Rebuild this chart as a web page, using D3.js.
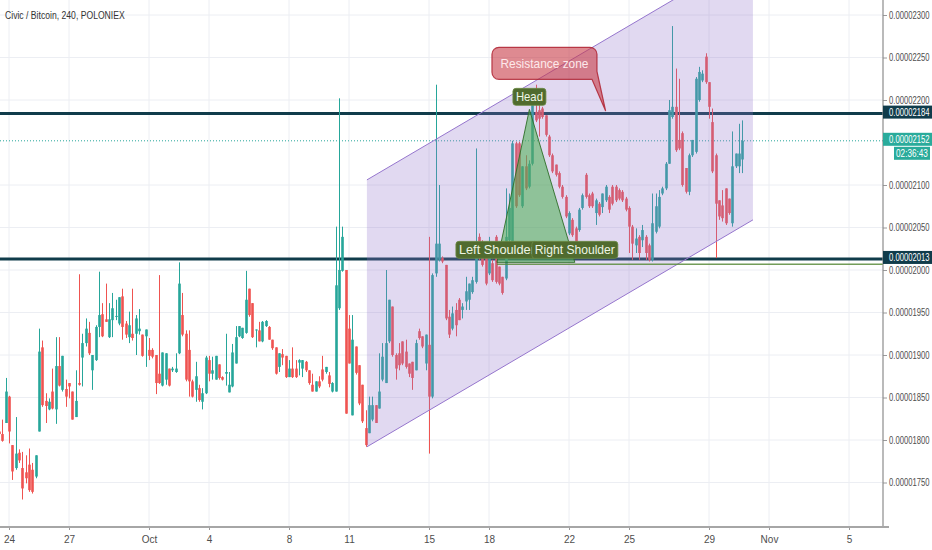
<!DOCTYPE html>
<html><head><meta charset="utf-8">
<script src="https://cdn.jsdelivr.net/npm/d3@7"></script>
<style>body{margin:0;background:#fff}svg{display:block}</style>
</head><body><svg id="c" width="932" height="550"></svg>
<script>
// ---- DATA (prices in 1e-8 BTC) ----
const candleStart = "2018-09-23T12:00:00Z";
const candleStepHours = 4;
const open = [1810,1807,1820,1851,1794,1767,1785,1767,1762,1771,1765,1757,1810,1909,1846,1836,1857,1836,1887,1859,1860,1867,1857,1827,1867,1897,1914,1926,1882,1894,1933,1948,1942,1921,1941,1945,1937,1969,1937,1921,1925,1925,1928,1924,1922,1906,1906,1900,1878,1864,1871,1884,1882,1880,1902,1947,1925,1906,1869,1859,1861,
1845,1855,1894,1878,1871,1889,1874,1878,1856,1863,1890,1922,1920,1926,1978,1961,1929,1929,1916,1934,1933,1918,1909,1886,1901,1899,1874,1884,1884,1891,1884,1892,1882,1865,1857,1869,1883,1880,1876,1857,
1857,1955,1999,2000,1931,1829,1910,1888,1865,1814,1808,1824,1841,1837,1871,1867,1916,1957,1900,1902,1916,1904,1890,1892,1882,1928,1922,1890,1912,1851,1996,2012,2014,2006,1945,1931,1953,1965,1953,1963,1965,1974,1986,2039,2027,2031,1996,2008,2039,2004,1992,1990,
2035,2031,2149,2149,2075,2122,2098,2125,2186,2188,2190,2182,2157,2135,2124,2114,2098,2086,2043,2059,2049,2047,2073,2112,2088,2090,2067,2078,2074,2082,2086,2098,2098,2094,2092,2084,2073,2051,2029,2039,2035,2039,2029,2012,2045,2051,
2090,2096,2125,2180,2192,2153,2161,2120,2092,2135,2139,2200,2223,2251,2221,2174,2135,2082,2076,2096,2084,2055,2122,2122,2130];
const high = [1829,1824,1873,1852,1794,1827,1789,1786,1782,1790,1773,1782,1931,1917,1855,1849,1884,1921,1921,1899,1871,1867,1857,1882,1995,1925,1943,1939,1900,1935,1998,1961,1984,1961,1973,1965,1968,1978,1940,1951,1978,1947,1954,1924,1930,1920,1908,1900,1994,1903,1902,1884,1886,1902,2009,1973,1929,1929,1871,1892,1865,
1861,1899,1899,1898,1899,1889,1875,1925,1880,1913,1934,1934,1932,1999,1978,1961,1930,1939,1940,1941,1934,1918,1909,1902,1907,1899,1894,1909,1894,1895,1894,1893,1882,1878,1869,1875,1899,1886,1880,1868,
2051,2202,2051,2000,1947,1947,1910,1888,1865,1835,1851,1851,1841,1902,1914,2000,1965,1957,1902,1914,1916,1918,1890,1892,1918,1931,1922,1924,2039,1996,2218,2100,2016,2006,1953,1957,1961,1967,1961,1992,1984,1992,2143,2043,2035,2031,2039,2012,2041,2004,1992,2096,
2090,2152,2151,2151,2122,2135,2129,2196,2218,2212,2192,2182,2159,2137,2124,2116,2100,2088,2069,2061,2051,2073,2090,2114,2090,2092,2084,2080,2090,2100,2088,2100,2100,2096,2094,2086,2075,2053,2049,2041,2053,2041,2031,2090,2090,2094,
2098,2127,2200,2287,2237,2225,2163,2120,2137,2153,2227,2239,2235,2255,2221,2190,2137,2082,2094,2096,2084,2163,2137,2172,2176];
const low = [1806,1798,1820,1796,1753,1765,1773,1730,1749,1739,1737,1755,1810,1839,1820,1835,1836,1819,1863,1857,1839,1849,1824,1827,1864,1863,1910,1900,1859,1893,1921,1921,1939,1920,1921,1941,1935,1918,1920,1914,1917,1900,1924,1898,1886,1894,1896,1854,1866,1863,1865,1863,1880,1879,1901,1922,1869,1851,1850,1845,1845,
1836,1854,1869,1871,1871,1871,1870,1864,1856,1862,1890,1921,1919,1925,1945,1920,1909,1916,1915,1933,1918,1906,1877,1880,1888,1873,1874,1873,1873,1876,1874,1880,1865,1857,1857,1861,1869,1878,1862,1856,
1857,1953,1998,1831,1890,1829,1877,1841,1820,1792,1808,1822,1820,1837,1869,1867,1914,1898,1871,1882,1888,1884,1874,1859,1882,1918,1908,1882,1784,1849,1992,2010,2008,1941,1920,1929,1922,1941,1943,1953,1953,1972,1984,2012,2004,1982,1994,1986,1984,1982,1971,1988,
2031,2029,2073,2086,2073,2094,2096,2123,2174,2157,2178,2157,2133,2114,2110,2096,2084,2061,2041,2039,2016,2045,2071,2084,2073,2073,2053,2063,2067,2080,2067,2076,2080,2082,2080,2069,2020,2012,2020,2012,2027,2012,2010,2010,2043,2049,
2088,2094,2125,2178,2139,2141,2098,2090,2088,2133,2137,2198,2221,2219,2178,2114,2014,2059,2057,2053,2065,2051,2120,2114,2114];
const close = [1807,1799,1857,1810,1763,1784,1776,1743,1755,1741,1739,1782,1904,1841,1840,1845,1837,1887,1864,1899,1851,1863,1824,1846,1865,1914,1931,1902,1900,1933,1947,1922,1939,1942,1955,1946,1968,1933,1924,1935,1920,1943,1931,1899,1930,1899,1898,1867,1867,1903,1902,1864,1884,1884,1984,1924,1871,1869,1851,1875,1847,
1855,1897,1878,1882,1899,1873,1871,1880,1865,1903,1921,1934,1932,1965,1947,1921,1930,1916,1939,1940,1918,1908,1878,1902,1897,1874,1884,1874,1874,1894,1894,1882,1867,1857,1869,1863,1871,1886,1866,1867,
1982,2000,2039,1831,1890,1918,1879,1843,1822,1794,1841,1841,1820,1857,1898,1914,1965,1900,1884,1888,1890,1886,1878,1873,1914,1920,1910,1924,1851,1994,2031,2031,2010,1943,1924,1949,1935,1941,1957,1975,1984,1988,2020,2014,2006,1984,2023,1988,1986,1984,1973,2039,
2073,2149,2075,2088,2122,2096,2125,2194,2176,2178,2180,2159,2135,2116,2112,2098,2086,2063,2067,2041,2027,2071,2088,2086,2075,2075,2082,2065,2090,2098,2071,2078,2082,2084,2082,2071,2051,2031,2037,2020,2047,2020,2012,2055,2075,2086,
2096,2125,2188,2192,2141,2143,2100,2092,2135,2153,2225,2233,2231,2221,2192,2116,2078,2063,2061,2055,2067,2122,2137,2137,2152];

const priceTicks = [1750,1800,1850,1900,1950,2000,2050,2100,2200,2250,2300];
const dateTicks = ["2018-09-24","2018-09-27","2018-10-01","2018-10-04","2018-10-08","2018-10-11","2018-10-15","2018-10-18","2018-10-22","2018-10-25","2018-10-29","2018-11-01","2018-11-05"];
const dateLabels = ["24","27","Oct","4","8","11","15","18","22","25","29","Nov","5"];
const levels = [2184, 2013];
const lastPrice = 2152;
const countdown = "02:36:43";
const channelTimes = ["2018-10-11T21:30:00Z","2018-10-31T04:45:00Z"];
const channelLower = [1792, 2059];
const channelUpper = [2106, 2373];
const hsTimes = ["2018-10-18T09:30:00Z","2018-10-20T00:30:00Z","2018-10-22T07:00:00Z"];
const hsPrices = [2009, 2189, 2009];
const hsLabels = ["Left Shoulder","Head","Right Shoulder"];
const hsLabelWidths = [76, 27, 80];
const necklinePrice = 2008;
const calloutTime = "2018-10-23T20:00:00Z";
const calloutPrice = 2187;
const calloutText = "Resistance zone";
const title = "Civic / Bitcoin, 240, POLONIEX";

// ---- CHART ----
const svg = d3.select("#c");
const plotR = 883, plotB = 527;
const FONT = "'Liberation Sans', Arial, sans-serif";
const SX = 0.73;
const x = d3.scaleUtc().domain([new Date("2018-09-24T00:00:00Z"), new Date("2018-11-05T00:00:00Z")]).range([9, 849]);
const y = d3.scaleLinear().domain([2000, 2300]).range([270, 15]);
const fmt = v => (v * 1e-8).toFixed(8);

svg.append("defs").append("clipPath").attr("id","plot").append("rect")
  .attr("x",0).attr("y",0).attr("width",plotR).attr("height",plotB);
const g = svg.append("g").attr("clip-path","url(#plot)");

// grid
g.append("g").selectAll("line").data(dateTicks).join("line")
  .attr("x1", d => x(new Date(d+"T00:00:00Z"))).attr("x2", d => x(new Date(d+"T00:00:00Z")))
  .attr("y1",0).attr("y2",plotB).attr("stroke","#eceef3").attr("stroke-width",1);
g.append("g").selectAll("line").data(priceTicks).join("line")
  .attr("x1",0).attr("x2",plotR).attr("y1", d => y(d)).attr("y2", d => y(d))
  .attr("stroke","#eceef3").attr("stroke-width",1);

// horizontal levels
g.append("g").selectAll("line").data(levels).join("line")
  .attr("x1",0).attr("x2",plotR).attr("y1", d => y(d)).attr("y2", d => y(d))
  .attr("stroke","#103c4b").attr("stroke-width",3);
g.append("line").attr("x1",0).attr("x2",plotR).attr("y1",y(lastPrice)).attr("y2",y(lastPrice))
  .attr("stroke","#26a69a").attr("stroke-width",1).attr("stroke-dasharray","1,2");

// candles
const t0 = new Date(candleStart).getTime();
const candles = open.map((o,i) => ({t:new Date(t0 + i*candleStepHours*3600e3), o, h:high[i], l:low[i], c:close[i]}));
const cg = g.append("g");
const col = d => d.c >= d.o ? "#26a69a" : "#ef5350";
cg.selectAll("line").data(candles).join("line")
  .attr("x1", d => Math.round(x(d.t))+0.5).attr("x2", d => Math.round(x(d.t))+0.5)
  .attr("y1", d => y(Math.max(d.h,d.o,d.c))).attr("y2", d => y(Math.min(d.l,d.o,d.c)))
  .attr("stroke", col).attr("stroke-width",1);
cg.selectAll("rect").data(candles).join("rect")
  .attr("x", d => Math.round(x(d.t)) - 0.8).attr("width", 2.6)
  .attr("y", d => y(Math.max(d.o,d.c)))
  .attr("height", d => Math.max(1, Math.abs(y(d.o)-y(d.c))))
  .attr("fill", col);

// channel
const cx0 = x(new Date(channelTimes[0])), cx1 = x(new Date(channelTimes[1]));
g.append("polygon")
  .attr("points", [[cx0,y(channelLower[0])],[cx1,y(channelLower[1])],[cx1,y(channelUpper[1])],[cx0,y(channelUpper[0])]].map(p=>p.join(",")).join(" "))
  .attr("fill","rgba(149,117,205,0.28)");
[channelLower, channelUpper].forEach(arr => {
  g.append("line").attr("x1",cx0).attr("y1",y(arr[0])).attr("x2",cx1).attr("y2",y(arr[1]))
    .attr("stroke","#9575cd").attr("stroke-width",1);
});

// head & shoulders
const hsPts = hsTimes.map((t,i) => [x(new Date(t)), y(hsPrices[i])]);
g.append("line").attr("x1",hsPts[0][0]).attr("x2",plotR).attr("y1",y(necklinePrice)+1).attr("y2",y(necklinePrice)+1)
  .attr("stroke","rgba(90,140,60,0.85)").attr("stroke-width",1.5);
g.append("polygon").attr("points", hsPts.map(p=>p.join(",")).join(" "))
  .attr("fill","rgba(76,175,80,0.55)").attr("stroke","rgba(46,110,40,0.9)").attr("stroke-width",1);

// resistance callout
const tip = [x(new Date(calloutTime)), y(calloutPrice)];
const bx0 = tip[0]-113.7, bx1 = tip[0]-8.7, by0 = tip[1]-63.7, by1 = tip[1]-31.7, r = 7;
const cp = d3.path();
cp.moveTo(bx0+r,by0); cp.lineTo(bx1-r,by0); cp.arcTo(bx1,by0,bx1,by0+r,r);
cp.lineTo(bx1,by1-8); cp.lineTo(tip[0],tip[1]); cp.lineTo(bx1-5,by1);
cp.lineTo(bx0+r,by1); cp.arcTo(bx0,by1,bx0,by1-r,r); cp.lineTo(bx0,by0+r); cp.arcTo(bx0,by0,bx0+r,by0,r); cp.closePath();
g.append("path").attr("d",cp.toString()).attr("fill","rgba(200,60,72,0.6)").attr("stroke","rgba(175,35,50,0.85)").attr("stroke-width",1.2);
g.append("text").attr("x",(bx0+bx1)/2).attr("y",(by0+by1)/2+4.5).attr("text-anchor","middle")
  .attr("font-family",FONT).attr("font-size",13).attr("fill","#fde9eb")
  .attr("textLength",88).attr("lengthAdjust","spacingAndGlyphs").text(calloutText);

// H&S labels
hsLabels.forEach((lab,i) => {
  const [px,py] = hsPts[i];
  const w = hsLabelWidths[i] + 6, h = 17, bottom = py - 4;
  const lg = g.append("g");
  lg.append("rect").attr("x",px-w/2).attr("y",bottom-h).attr("width",w).attr("height",h).attr("rx",3)
    .attr("fill","#506b2e").attr("stroke","#6b8a45").attr("stroke-width",0.8);
  lg.append("text").attr("x",px).attr("y",bottom-4).attr("text-anchor","middle")
    .attr("font-family",FONT).attr("font-size",13).attr("fill","#eef5e4")
    .attr("textLength",hsLabelWidths[i]).attr("lengthAdjust","spacingAndGlyphs").text(lab);
});

// axes
const yAxis = svg.append("g").attr("transform",`translate(${plotR},0)`)
  .call(d3.axisRight(y).tickValues(priceTicks).tickFormat(fmt).tickSize(4).tickPadding(2));
yAxis.select(".domain").remove();
yAxis.selectAll(".tick line").attr("stroke","#9a9a9a");
yAxis.selectAll(".tick text").attr("font-family",FONT).attr("font-size",10.5).attr("fill","#4e4e4e")
  .attr("x", 6/SX).attr("transform",`scale(${SX},1)`);

const xAxis = svg.append("g").attr("transform",`translate(0,${plotB})`)
  .call(d3.axisBottom(x).tickValues(dateTicks.map(d=>new Date(d+"T00:00:00Z"))).tickFormat((d,i)=>dateLabels[i]).tickSize(3).tickPadding(6));
xAxis.select(".domain").remove();
xAxis.selectAll(".tick line").attr("stroke","#9a9a9a");
xAxis.selectAll(".tick text").attr("font-family",FONT).attr("font-size",10).attr("fill","#4e4e4e");

svg.append("line").attr("x1",plotR).attr("x2",plotR).attr("y1",0).attr("y2",plotB+1).attr("stroke","#8c8c8c").attr("stroke-width",1.2);
svg.append("line").attr("x1",0).attr("x2",plotR+6).attr("y1",plotB).attr("y2",plotB).attr("stroke","#a6a6a6").attr("stroke-width",2);

// price boxes
const boxes = levels.map(v => ({v, fill:"#103c4b"})).concat([{v:lastPrice, fill:"#2aab9b"}]);
boxes.forEach(b => {
  const cy = y(b.v) - 1.5;
  svg.append("rect").attr("x",plotR).attr("y",cy-6.5).attr("width",932-plotR).attr("height",13).attr("fill",b.fill);
  svg.append("text").attr("transform",`translate(${plotR+6},${cy+3.7}) scale(${SX},1)`)
    .attr("font-family",FONT).attr("font-size",10.5).attr("fill","#ffffff").text(fmt(b.v));
});
{
  const top = y(lastPrice) + 6;
  svg.append("rect").attr("x",894).attr("y",top).attr("width",36).attr("height",13).attr("fill","#2aab9b");
  svg.append("text").attr("transform",`translate(912,${top+10}) scale(0.78,1)`).attr("text-anchor","middle")
    .attr("font-family",FONT).attr("font-size",10.5).attr("fill","#ffffff").text(countdown);
}

// title
svg.append("text").attr("transform","translate(5,19) scale(0.75,1)").attr("font-family",FONT).attr("font-size",11.5).attr("fill","#333")
  .text(title);
</script></body></html>
